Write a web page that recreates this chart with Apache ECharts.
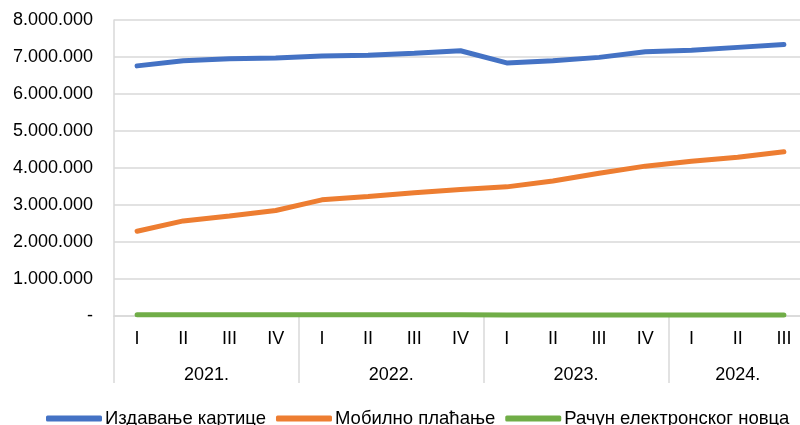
<!doctype html>
<html>
<head>
    <meta charset="utf-8">
    <title>Chart</title>
    <script src="https://cdn.jsdelivr.net/npm/echarts@6/dist/echarts.min.js"></script>
</head>
<body style="margin:0;padding:0">
    <div id="tb" style="width:800px;height:425px"></div>
    <script>
        // data
        var quarters = ['I', 'II', 'III', 'IV', 'I', 'II', 'III', 'IV', 'I', 'II', 'III', 'IV', 'I', 'II', 'III'];
        var years = ['2021.', '2022.', '2023.', '2024.'];
        var yearSizes = [4, 4, 4, 3];
        var cards = [6760000, 6900000, 6950000, 6970000, 7030000, 7050000, 7100000, 7170000, 6840000, 6900000, 6990000, 7140000, 7180000, 7260000, 7340000];
        var mobile = [2290000, 2570000, 2700000, 2850000, 3140000, 3230000, 3330000, 3420000, 3490000, 3650000, 3860000, 4050000, 4180000, 4290000, 4440000];
        var emoney = [35000, 35000, 35000, 35000, 35000, 35000, 35000, 35000, 28000, 28000, 28000, 28000, 28000, 28000, 28000];
        var yMax = 8000000, yStep = 1000000;

        // year axis: half-category slots, labels in the middle of each year, ticks at boundaries
        var slots = [];
        for (var i = 0; i <= quarters.length * 2; i++) slots.push('');
        var bounds = {};
        var s = 0;
        years.forEach(function (y, k) {
            bounds[2 * s] = true;
            slots[2 * s + yearSizes[k]] = y;
            s += yearSizes[k];
        });
        bounds[2 * s] = true;

        var grey = '#d9d9d9';
        var font = 'Liberation Sans, Arial, sans-serif';
        var chart = echarts.init(document.getElementById('tb'));
        chart.setOption({
            animation: false,
            grid: {
                left: 114,
                top: 20,
                bottom: 109,
                width: 693,
                outerBoundsMode: 'none'
            },
            legend: {
                left: 41,
                bottom: -8,
                icon: 'roundRect',
                itemWidth: 56,
                itemHeight: 6,
                itemGap: 10,
                textStyle: { fontFamily: font, fontSize: 18.5, color: '#000', padding: [0, 0, 0, -2] }
            },
            xAxis: [{
                type: 'category',
                data: quarters,
                axisLine: { lineStyle: { color: grey, width: 1.5 } },
                axisTick: { show: false },
                axisLabel: { interval: 0, margin: 14, color: '#000', fontFamily: font, fontSize: 18 }
            }, {
                type: 'category',
                data: slots,
                boundaryGap: false,
                position: 'bottom',
                axisLine: { show: false },
                axisTick: {
                    show: true,
                    length: 67,
                    interval: function (idx) { return !!bounds[idx]; },
                    lineStyle: { color: grey, width: 1.5 }
                },
                axisLabel: { interval: 0, margin: 50, color: '#000', fontFamily: font, fontSize: 18 }
            }],
            yAxis: {
                type: 'value',
                min: 0,
                max: yMax,
                interval: yStep,
                axisLine: { show: true, lineStyle: { color: grey, width: 1.5 } },
                splitLine: { lineStyle: { color: grey, width: 1.5 } },
                axisLabel: {
                    margin: 21,
                    color: '#000',
                    fontFamily: font,
                    fontSize: 18,
                    formatter: function (v) {
                        return v === 0 ? '-' : String(v).replace(/\B(?=(\d{3})+(?!\d))/g, '.');
                    }
                }
            },
            series: [{
                name: 'Издавање картице',
                type: 'line',
                data: cards,
                symbol: 'none',
                color: '#4472C4',
                lineStyle: { width: 5, cap: 'round' }
            }, {
                name: 'Мобилно плаћање',
                type: 'line',
                data: mobile,
                symbol: 'none',
                color: '#ED7D31',
                lineStyle: { width: 5, cap: 'round' }
            }, {
                name: 'Рачун електронског новца',
                type: 'line',
                data: emoney,
                symbol: 'none',
                color: '#70AD47',
                lineStyle: { width: 5, cap: 'round' }
            }]
        });
    </script>
</body>
</html>
